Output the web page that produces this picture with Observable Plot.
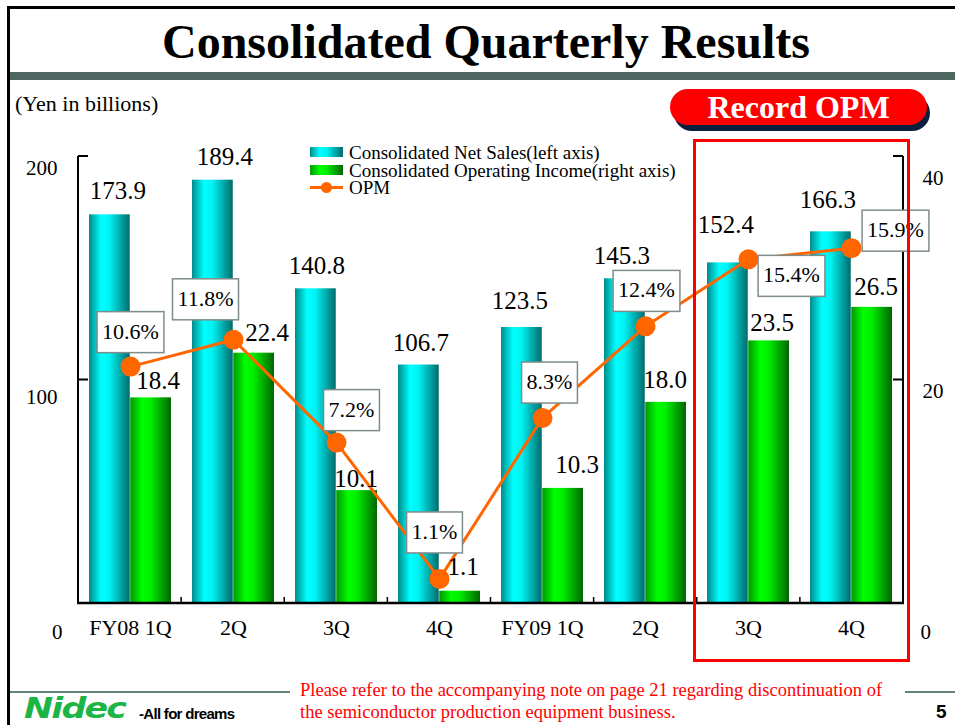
<!DOCTYPE html>
<html>
<head>
<meta charset="utf-8">
<script src="https://cdn.jsdelivr.net/npm/d3@7"></script>
<script src="https://cdn.jsdelivr.net/npm/@observablehq/plot@0.6"></script>
<style>
  body { margin: 0; background: #fff; }
  #page { position: relative; width: 955px; height: 725px; overflow: hidden; background: #fff;
          font-family: "Liberation Serif", "Times New Roman", serif; color: #000; }
  .abs { position: absolute; }
  #chart { position: absolute; left: 0; top: 110px; z-index: 1; }
  .lg-row { position: absolute; left: 0; height: 17px; white-space: nowrap; }
  .lg-sw { position: absolute; left: 0; width: 33px; height: 10px; }
  .lg-tx { position: absolute; left: 39px; font-size: 19px; line-height: 17px; top: 0; }
</style>
</head>
<body>
<div id="page">
  <div class="abs" style="left:7px;top:6px;width:948px;height:3px;background:#000;z-index:5"></div>
  <div class="abs" style="left:7px;top:6px;width:3px;height:719px;background:#000;z-index:5"></div>
  <div class="abs" style="left:10px;top:72px;width:945px;height:8px;background:#4d6660;z-index:5"></div>
  <div id="title" class="abs" style="left:0;top:18px;width:972px;text-align:center;font-size:48px;line-height:48px;font-weight:bold;"></div>
  <div id="unit" class="abs" style="left:15px;top:92px;font-size:22px;line-height:24px;"></div>

  <div class="abs" style="left:674px;top:95px;width:256px;height:36px;border-radius:18px;background:#0b1f3f;z-index:3"></div>
  <div id="badge" class="abs" style="left:670px;top:89px;width:257px;height:36px;border-radius:18px;background:#ff0000;z-index:4;color:#fff;font-weight:bold;font-size:32px;line-height:36px;text-align:center;"></div>

  <div id="legend" class="abs" style="left:310px;top:144px;width:400px;height:60px;z-index:3"></div>

  <div class="abs" style="left:693px;top:139px;width:217px;height:523px;border:3px solid #ff0000;box-sizing:border-box;z-index:6"></div>

  <div class="abs" style="left:10px;top:691px;width:280px;height:2px;background:#66807a;"></div>
  <div class="abs" style="left:905px;top:691px;width:50px;height:2px;background:#66807a;"></div>
  <div id="note" class="abs" style="left:300px;top:679px;font-size:18.5px;line-height:22px;color:#ff0000;white-space:nowrap;"></div>
  <div id="pagenum" class="abs" style="left:936px;top:702px;font-family:'Liberation Sans',Arial,sans-serif;font-weight:bold;font-size:19px;line-height:20px;"></div>
  <div id="logo" class="abs" style="left:24px;top:693px;font-family:'DejaVu Sans','Liberation Sans',Arial,sans-serif;font-weight:bold;font-style:italic;font-size:29px;line-height:30px;color:#1db446;transform:scaleX(1.2);transform-origin:left top;letter-spacing:-1.5px;"></div>
  <div id="tagline" class="abs" style="left:139px;top:706px;font-family:'Liberation Sans',Arial,sans-serif;font-weight:bold;font-size:15px;line-height:16px;letter-spacing:-0.7px;"></div>
</div>
<script>
// ---------------- data ----------------
const categories = ["FY08 1Q","FY08 2Q","FY08 3Q","FY08 4Q","FY09 1Q","FY09 2Q","FY09 3Q","FY09 4Q"];
const tickLabels = ["FY08 1Q","2Q","3Q","4Q","FY09 1Q","2Q","3Q","4Q"];
const netSales = [173.9, 189.4, 140.8, 106.7, 123.5, 145.3, 152.4, 166.3];
const operatingIncome = [18.4, 22.4, 10.1, 1.1, 10.3, 18.0, 23.5, 26.5];
const opm = [10.6, 11.8, 7.2, 1.1, 8.3, 12.4, 15.4, 15.9];
const leftTicks = [0, 100, 200];
const rightTicks = [0, 20, 40];
const seriesNames = ["Consolidated Net Sales(left axis)", "Consolidated Operating Income(right axis)", "OPM"];

// texts
document.getElementById("title").textContent = "Consolidated Quarterly Results";
document.getElementById("unit").textContent = "(Yen in billions)";
document.getElementById("badge").textContent = "Record OPM";
document.getElementById("note").innerHTML = "Please refer to the accompanying note on page 21 regarding discontinuation of<br>the semiconductor production equipment business.";
document.getElementById("pagenum").textContent = "5";
document.getElementById("logo").textContent = "Nidec";
document.getElementById("tagline").textContent = "-All for dreams";

// ---------------- colours ----------------
const ORANGE = "#ff6600";
const cyanCss = "linear-gradient(to right,#008b8b 0%,#00ffff 30%,#00f2f2 50%,#006b6b 100%)";
const greenCss = "linear-gradient(to right,#009900 0%,#00ff00 30%,#00ee00 50%,#006600 100%)";

// legend
const lg = document.getElementById("legend");
seriesNames.forEach((name, i) => {
  const row = document.createElement("div");
  row.className = "lg-row";
  row.style.top = (i * 17.5) + "px";
  const tx = document.createElement("div");
  tx.className = "lg-tx";
  tx.textContent = name;
  if (i < 2) {
    const sw = document.createElement("div");
    sw.className = "lg-sw";
    sw.style.top = "3px";
    sw.style.background = i === 0 ? cyanCss : greenCss;
    row.appendChild(sw);
  } else {
    const ln = document.createElement("div");
    ln.style.cssText = `position:absolute;left:0;top:7px;width:33px;height:3px;background:${ORANGE}`;
    const dt = document.createElement("div");
    dt.style.cssText = `position:absolute;left:11px;top:3px;width:11px;height:11px;border-radius:50%;background:${ORANGE}`;
    row.appendChild(ln); row.appendChild(dt);
  }
  row.appendChild(tx);
  lg.appendChild(row);
});

// ---------------- chart ----------------
const rows = categories.map((c, i) => ({cat: c, label: tickLabels[i], sales: netSales[i], income: operatingIncome[i], opm: opm[i]}));
const INC = 5;   // right axis (0-40) onto left axis (0-200)
const PCT = 10;  // OPM (0-20 %) onto left axis (0-200)

const W = 955, H = 560, mL = 78, mR = 52, mT = 46, mB = 67;
const step = (W - mL - mR) / categories.length;
const bw = step * 0.8;
const half = bw / 2;
const FONT = "'Liberation Serif', 'Times New Roman', serif";

const defsMark = () => {
  const ns = "http://www.w3.org/2000/svg";
  const defs = document.createElementNS(ns, "defs");
  const grads = {
    gCyan: [["0%", "#008b8b"], ["30%", "#00ffff"], ["50%", "#00f2f2"], ["100%", "#006b6b"]],
    gGreen: [["0%", "#009900"], ["30%", "#00ff00"], ["50%", "#00ee00"], ["100%", "#006600"]]
  };
  for (const [id, stops] of Object.entries(grads)) {
    const lgd = document.createElementNS(ns, "linearGradient");
    lgd.setAttribute("id", id);
    lgd.setAttribute("x1", "0"); lgd.setAttribute("x2", "1"); lgd.setAttribute("y1", "0"); lgd.setAttribute("y2", "0");
    for (const [o, c] of stops) {
      const s = document.createElementNS(ns, "stop");
      s.setAttribute("offset", o); s.setAttribute("stop-color", c);
      lgd.appendChild(s);
    }
    defs.appendChild(lgd);
  }
  return defs;
};

const axesMark = (index, scales, values, dims) => {
  const y = scales.y;
  const L = dims.marginLeft, R = dims.width - dims.marginRight;
  const y0 = y(0), yTop = y(leftTicks[leftTicks.length - 1]);
  const g = d3.create("svg:g").attr("stroke", "#000").attr("fill", "none");
  g.append("line").attr("x1", L).attr("x2", L).attr("y1", yTop).attr("y2", y0).attr("stroke-width", 2);
  g.append("line").attr("x1", R).attr("x2", R).attr("y1", yTop).attr("y2", y0).attr("stroke-width", 2);
  g.append("line").attr("x1", L - 1).attr("x2", R + 1).attr("y1", y0).attr("y2", y0).attr("stroke-width", 2.5);
  for (const t of leftTicks.filter(t => t > 0))
    g.append("line").attr("x1", L).attr("x2", L + 10).attr("y1", y(t)).attr("y2", y(t)).attr("stroke-width", 2);
  for (const t of rightTicks.filter(t => t > 0))
    g.append("line").attr("x1", R - 10).attr("x2", R).attr("y1", y(t * INC)).attr("y2", y(t * INC)).attr("stroke-width", 2);
  const st = (R - L) / categories.length;
  for (let i = 1; i < categories.length; i++)
    g.append("line").attr("x1", L + i * st).attr("x2", L + i * st).attr("y1", y0 - 6).attr("y2", y0).attr("stroke-width", 1.5);
  return g.node();
};

// label layout (pixel offsets of each label from its anchor)
const salesOff = [[8,-24],[12,-23],[1,-23],[2,-22],[-2,-26],[-3,-23],[-2,-38],[-3,-32]];
const incOff = [[7,-17],[13,-20],[-1,-12],[3,-24],[14,-23],[-1,-22],[3,-18],[4,-20]];
const opmOff = [[0,-35],[-28,-41],[15,-33],[-5,-47],[7,-36],[1,-36],[43,16],[44,-18]];

const labelFont = {fontFamily: FONT, fill: "#000", stroke: null};

const salesLabels = rows.map((r, i) => Plot.text([r], {
  x: "cat", y: "sales", text: d => d.sales.toFixed(1),
  dx: -half / 2 + salesOff[i][0], dy: salesOff[i][1], fontSize: 25, ...labelFont
}));
const incLabels = rows.map((r, i) => Plot.text([r], {
  x: "cat", y: d => d.income * INC, text: d => d.income.toFixed(1),
  dx: half / 2 + incOff[i][0], dy: incOff[i][1], fontSize: 25, ...labelFont
}));
const opmLabels = rows.map((r, i) => Plot.text([r], {
  x: "cat", y: d => d.opm * PCT, text: d => d.opm.toFixed(1) + "%",
  dx: opmOff[i][0], dy: opmOff[i][1], fontSize: 22, ariaDescription: "opm-label", ...labelFont
}));

const leftLabOff = {0: [-16, 29], 100: [-21, 17], 200: [-21, 12]};
const rightLabOff = {0: [17, 29], 20: [19, 11], 40: [19, 22]};
const leftAxisLabels = leftTicks.map(t => Plot.text([t], {
  y: d => d, text: d => String(d), frameAnchor: "left", textAnchor: "end",
  dx: leftLabOff[t][0], dy: leftLabOff[t][1], fontSize: 21, ...labelFont
}));
const rightAxisLabels = rightTicks.map(t => Plot.text([t], {
  y: d => d * INC, text: d => String(d), frameAnchor: "right", textAnchor: "start",
  dx: rightLabOff[t][0], dy: rightLabOff[t][1], fontSize: 21, ...labelFont
}));

const chart = Plot.plot({
  width: W, height: H,
  marginLeft: mL, marginRight: mR, marginTop: mT, marginBottom: mB,
  style: {background: "transparent", fontFamily: FONT, overflow: "visible"},
  x: {type: "band", domain: categories, paddingInner: 0.2, paddingOuter: 0.1, axis: null},
  y: {domain: [0, 200], axis: null},
  marks: [
    defsMark,
    Plot.barY(rows, {x: "cat", y: "sales", fill: "url(#gCyan)", insetRight: half, insetLeft: 0}),
    Plot.barY(rows, {x: "cat", y: d => d.income * INC, fill: "url(#gGreen)", insetLeft: half, insetRight: 0}),
    axesMark,
    Plot.line(rows, {x: "cat", y: d => d.opm * PCT, stroke: ORANGE, strokeWidth: 3}),
    Plot.dot(rows, {x: "cat", y: d => d.opm * PCT, r: 10, fill: ORANGE, stroke: null}),
    ...salesLabels,
    ...incLabels,
    ...opmLabels,
    ...leftAxisLabels,
    ...rightAxisLabels,
    Plot.text(rows, {x: "cat", text: "label", frameAnchor: "bottom", dy: 31.5, fontSize: 22, ...labelFont})
  ]
});
chart.id = "chart";
document.getElementById("page").appendChild(chart);

// white boxes behind the OPM labels
const ns = "http://www.w3.org/2000/svg";
chart.querySelectorAll('g[aria-description="opm-label"] text').forEach(t => {
  const bb = t.getBBox();
  const r = document.createElementNS(ns, "rect");
  const cy = bb.y + bb.height / 2 + 1;
  r.setAttribute("x", bb.x - 5);
  r.setAttribute("y", cy - 20.5);
  r.setAttribute("width", bb.width + 10);
  r.setAttribute("height", 41);
  r.setAttribute("fill", "#fff");
  r.setAttribute("stroke", "#7f8c8c");
  r.setAttribute("stroke-width", 1.5);
  const tr = t.getAttribute("transform");
  if (tr) r.setAttribute("transform", tr);
  t.parentNode.insertBefore(r, t);
});
</script>
</body>
</html>
